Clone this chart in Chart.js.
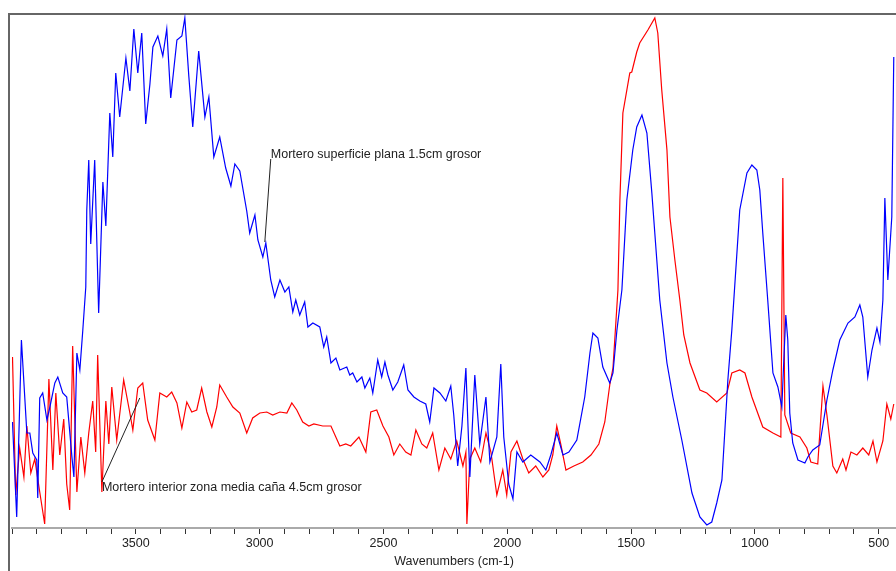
<!DOCTYPE html>
<html>
<head>
<meta charset="utf-8">
<script src="https://cdn.jsdelivr.net/npm/chart.js@4.4.1/dist/chart.umd.min.js"></script>
<style>
  html, body { margin: 0; padding: 0; background: #fff; }
  #wrap { position: relative; width: 896px; height: 571px; overflow: hidden; }
  #frame { position: absolute; left: 8px; top: 13px; width: 900px; height: 570px;
           border-left: 2px solid #666; border-top: 2px solid #666; }
  canvas { position: absolute; left: 0; top: 0; }
</style>
</head>
<body>
<div id="wrap">
  <div id="frame"></div>
  <canvas id="spectrum" width="896" height="571"></canvas>
</div>
<script>
// Spectrum data (wavenumber cm-1, relative absorbance units)
const blueWavenumbers = [3998, 3981, 3962, 3940, 3928, 3916, 3900, 3896, 3888, 3876, 3859, 3847, 3827, 3815, 3795, 3779, 3758, 3750, 3738, 3726,
  3714, 3702, 3698, 3690, 3682, 3666, 3650, 3633, 3621, 3605, 3593, 3581, 3565, 3540, 3524, 3508, 3492, 3476, 3460, 3443,
  3431, 3411, 3391, 3375, 3359, 3334, 3314, 3302, 3286, 3270, 3246, 3221, 3205, 3185, 3161, 3137, 3116, 3100, 3080, 3052,
  3040, 3019, 3007, 2987, 2975, 2955, 2939, 2918, 2898, 2882, 2866, 2854, 2838, 2818, 2805, 2785, 2757, 2741, 2729, 2712,
  2692, 2676, 2648, 2636, 2624, 2607, 2587, 2575, 2555, 2543, 2523, 2507, 2494, 2482, 2462, 2442, 2418, 2401,
  2377, 2353, 2329, 2313, 2296, 2272, 2248, 2228, 2216, 2200,
  2183, 2167, 2151, 2131, 2111, 2086, 2070, 2042, 2026, 2014, 1994, 1977, 1961, 1937, 1905, 1868, 1844, 1824, 1800, 1775,
  1751, 1719, 1687, 1666, 1654, 1634, 1614, 1586, 1573, 1557, 1537, 1517, 1493, 1477, 1456, 1436, 1416, 1396, 1384, 1355,
  1331, 1295, 1254, 1222, 1194, 1174, 1154, 1133, 1121, 1109, 1093, 1061, 1032, 1012, 992, 980, 968, 948, 927, 907,
  891, 883, 875, 867, 859, 847, 826, 798, 786, 766, 738, 709, 685, 657, 624, 596, 576, 564, 544, 527,
  507, 495, 483, 475, 463, 447, 439];
const blueValues = [106, 11, 188, 95, 95, 75, 68, 30, 130, 135, 108, 121, 145, 151, 135, 131, 71, 51, 175, 158,
  198, 241, 318, 368, 284, 368, 215, 346, 302, 415, 371, 455, 411, 470, 437, 499, 455, 495, 404, 444,
  481, 492, 472, 499, 430, 488, 492, 510, 452, 401, 477, 411, 431, 371, 391, 360, 342, 364, 357, 317,
  295, 313, 288, 271, 285, 248, 231, 248, 236, 241, 216, 228, 213, 226, 201, 205, 201, 181, 191, 165,
  170, 158, 161, 153, 155, 146, 151, 140, 150, 135, 168, 151, 166, 153, 138, 146, 163, 138,
  131, 127, 124, 106, 140, 135, 127, 142, 113, 62,
  102, 160, 51, 153, 84, 131, 66, 91, 164, 91, 44, 29, 76, 66, 73, 66, 58, 73, 95, 73,
  76, 88, 131, 175, 195, 190, 161, 145, 155, 198, 238, 328, 378, 401, 413, 395, 335, 268, 228, 165,
  131, 88, 35, 11, 3, 6, 25, 48, 98, 148, 198, 318, 355, 363, 358, 338, 295, 228, 155, 141,
  121, 168, 213, 188, 115, 85, 68, 65, 71, 78, 83, 128, 158, 188, 205, 211, 223, 211, 151, 178,
  200, 186, 228, 330, 248, 311, 471];

const redWavenumbers = [3998, 3985, 3969, 3952, 3940, 3924, 3908, 3888, 3868, 3851, 3835, 3823, 3807, 3791, 3779, 3767, 3755, 3738, 3722, 3706,
  3690, 3674, 3662, 3654, 3637, 3621, 3609,
  3597, 3577, 3549, 3524, 3512, 3492, 3472, 3452, 3423, 3403, 3375, 3355, 3334, 3314, 3294, 3274, 3254, 3234, 3213, 3193,
  3173, 3161, 3133, 3108, 3080, 3052, 3028, 2999, 2971, 2947, 2918, 2890, 2870, 2850,
  2826, 2801, 2781, 2745, 2712, 2676, 2652, 2632, 2599, 2571, 2551, 2527, 2502, 2478, 2458, 2434, 2410, 2389, 2369, 2345,
  2325, 2301, 2276, 2252, 2228, 2204, 2179, 2167, 2163, 2151, 2131, 2107, 2086, 2066, 2042, 2018, 2002, 1985, 1961, 1937,
  1913, 1885, 1856, 1832, 1816, 1800, 1784, 1763, 1731, 1695, 1662, 1630, 1606, 1586, 1573, 1553, 1545, 1533, 1505, 1497,
  1477, 1465, 1432, 1404, 1392, 1376, 1355, 1343, 1323, 1303, 1287, 1262, 1222, 1194, 1154, 1113, 1093, 1061, 1040, 1012,
  968, 927, 895, 887, 879, 855, 818, 790, 774, 746, 725, 709, 685, 669, 645, 632, 612, 588, 564, 540,
  523, 507, 483, 467, 451, 439];
const redValues = [171, 33, 80, 51, 102, 55, 69, 36, 4, 149, 58, 135, 73, 109, 44, 18, 182, 36, 91, 55,
  95, 127, 76, 173, 36, 127, 84,
  141, 88, 148, 115, 98, 140, 145, 108, 88, 135, 131, 136, 125, 100, 126, 116, 118, 140, 116, 101,
  121, 143, 131, 121, 115, 95, 110, 115, 116, 113, 116, 115, 125, 118,
  106, 102, 104, 102, 102, 82, 84, 82, 91, 76, 116, 118, 102, 91, 73, 84, 76, 73, 98, 84,
  80, 95, 58, 80, 69, 87, 62, 76, 4, 69, 80, 66, 95, 76, 33, 58, 33, 76, 87, 69,
  55, 62, 51, 58, 73, 102, 84, 58, 62, 66, 73, 84, 106, 143, 160, 238, 328, 415, 455, 456,
  476, 485, 498, 510, 495, 438, 378, 311, 268, 228, 193, 165, 138, 135, 126, 135, 155, 158, 155, 131,
  101, 95, 91, 350, 113, 95, 91, 80, 66, 64, 142, 113, 62, 55, 69, 58, 76, 73, 80, 73,
  87, 66, 87, 124, 109, 124];

const xTickLabels = [3500, 3000, 2500, 2000, 1500, 1000, 500];

// callouts: text, where the text starts, and the curve point the leader goes to
const noteTexts = ['Mortero superficie plana 1.5cm grosor', 'Mortero interior zona media caña 4.5cm grosor'];
const noteTextAt = [[2955, 373], [3637, 40]];
const noteLineFrom = [[2955, 369], [3637, 46]];
const noteLineTo = [[2979, 286], [3484, 130]];

function toPoints(xs, ys) {
    return xs.map((x, i) => ({ x: x, y: ys[i] }));
}

const calloutPlugin = {
    id: 'callouts',
    afterDatasetsDraw(chart) {
        const ctx = chart.ctx;
        const xs = chart.scales.x;
        const ys = chart.scales.y;
        ctx.save();
        ctx.strokeStyle = '#222';
        ctx.lineWidth = 1;
        ctx.fillStyle = '#222';
        ctx.font = '12.5px "Liberation Sans", Arial, sans-serif';
        ctx.textBaseline = 'middle';
        ctx.textAlign = 'left';
        noteTexts.forEach((text, i) => {
            ctx.beginPath();
            ctx.moveTo(xs.getPixelForValue(noteLineFrom[i][0]), ys.getPixelForValue(noteLineFrom[i][1]));
            ctx.lineTo(xs.getPixelForValue(noteLineTo[i][0]), ys.getPixelForValue(noteLineTo[i][1]));
            ctx.stroke();
            ctx.fillText(text, xs.getPixelForValue(noteTextAt[i][0]), ys.getPixelForValue(noteTextAt[i][1]));
        });
        ctx.restore();
    }
};

const ctx = document.getElementById('spectrum').getContext('2d');
new Chart(ctx, {
    type: 'line',
    data: {
        datasets: [{
            label: 'Mortero superficie plana 1.5cm grosor',
            data: toPoints(blueWavenumbers, blueValues),
            borderColor: '#0000ff',
            borderWidth: 1.2,
            pointRadius: 0,
            tension: 0
        }, {
            label: 'Mortero interior zona media caña 4.5cm grosor',
            data: toPoints(redWavenumbers, redValues),
            borderColor: '#ff0000',
            borderWidth: 1.2,
            pointRadius: 0,
            tension: 0
        }]
    },
    options: {
        responsive: false,
        animation: false,
        devicePixelRatio: 1,
        layout: { padding: { left: 12, top: 14, right: 0, bottom: 0 } },
        plugins: { legend: { display: false }, tooltip: { enabled: false } },
        scales: {
            x: {
                type: 'linear',
                reverse: true,
                min: 430,
                max: 4000,
                afterFit: (scale) => { scale.height = 43; },
                grid: { drawOnChartArea: false, tickLength: 6, tickColor: '#333', tickWidth: 1 },
                border: { color: '#aaa', width: 2 },
                ticks: {
                    stepSize: 100,
                    includeBounds: false,
                    autoSkip: false,
                    maxRotation: 0,
                    padding: 2,
                    color: '#222',
                    font: { family: '"Liberation Sans", Arial, sans-serif', size: 12.5 },
                    callback: (v) => xTickLabels.includes(v) ? String(v) : ''
                },
                title: {
                    display: true,
                    text: 'Wavenumbers (cm-1)',
                    color: '#222',
                    padding: { top: 0, bottom: 1.5 },
                    font: { family: '"Liberation Sans", Arial, sans-serif', size: 12.5 }
                }
            },
            y: { display: false, min: 0, max: 514 }
        }
    },
    plugins: [calloutPlugin]
});
</script>
</body>
</html>
